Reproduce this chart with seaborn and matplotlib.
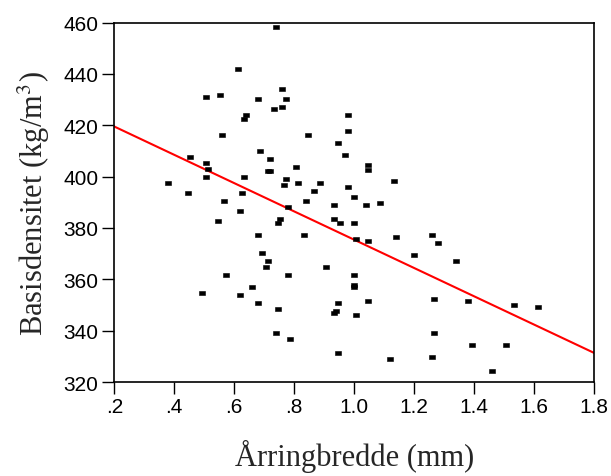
import matplotlib
matplotlib.use("Agg")
import matplotlib.pyplot as plt
import seaborn as sns
import pandas as pd

# Data
ring_width = [0.739, 0.613, 0.760, 0.507, 0.553, 0.680, 0.773, 0.732, 0.760, 0.639,
              0.633, 0.980, 0.980, 0.560, 0.847, 0.946, 0.968, 0.452, 0.687, 0.507,
              0.513, 0.507, 0.720, 0.713, 0.720, 0.807, 0.633, 0.773, 0.767, 0.813,
              0.887, 0.380, 0.447, 0.627, 0.867, 0.980, 1.000, 1.047, 1.047, 1.133,
              0.567, 0.620, 0.547, 0.840, 0.780, 0.753, 0.747, 0.933, 0.933, 0.953,
              1.000, 1.007, 0.833, 0.680, 0.693, 0.713, 0.707, 0.907, 0.573, 0.780,
              1.000, 1.000, 1.000, 0.660, 0.493, 0.620, 0.680, 0.747, 0.947, 0.933,
              0.940, 1.007, 0.740, 0.787, 0.947, 1.040, 1.087, 1.047, 1.140, 1.260,
              1.280, 1.200, 1.340, 1.267, 1.380, 1.533, 1.613, 1.047, 1.267, 1.393,
              1.507, 1.120, 1.260, 1.460]
density = [458.1, 441.8, 434.0, 430.9, 431.7, 430.1, 430.1, 426.2, 427.0, 423.9,
           422.3, 423.9, 417.7, 416.1, 416.1, 413.0, 408.3, 407.6, 409.9, 405.2,
           402.9, 399.8, 406.8, 402.1, 402.1, 403.7, 399.8, 399.0, 396.7, 397.5,
           397.5, 397.5, 393.6, 393.6, 394.3, 395.9, 392.0, 404.5, 402.7, 398.2,
           390.5, 386.6, 382.7, 390.5, 388.1, 383.5, 381.9, 388.9, 383.5, 381.9,
           381.9, 375.7, 377.2, 377.2, 370.2, 367.1, 364.8, 364.8, 361.7, 361.7,
           361.7, 357.8, 357.0, 357.0, 354.7, 353.9, 350.8, 348.5, 350.8, 346.9,
           347.7, 346.1, 339.1, 336.8, 331.3, 388.9, 389.7, 374.9, 376.4, 377.2,
           374.1, 369.5, 367.1, 352.3, 351.6, 350.0, 349.2, 351.6, 339.1, 334.4,
           334.4, 329.0, 329.8, 324.3]

fit_x = [0.2, 1.8]
fit_y = [419.5, 331.3]

x_ticks = [0.2, 0.4, 0.6, 0.8, 1.0, 1.2, 1.4, 1.6, 1.8]
x_tick_labels = [".2", ".4", ".6", ".8", "1.0", "1.2", "1.4", "1.6", "1.8"]
y_ticks = [320, 340, 360, 380, 400, 420, 440, 460]
y_tick_labels = ["320", "340", "360", "380", "400", "420", "440", "460"]

x_label = "Årringbredde (mm)"
y_label = r"Basisdensitet (kg/m$^\mathrm{3}$)"

sns.set_style("ticks")
plt.rcParams["font.family"] = ["Liberation Sans", "DejaVu Sans"]
plt.rcParams["mathtext.fontset"] = "stix"

df = pd.DataFrame({"x": ring_width, "y": density})
fit = pd.DataFrame({"x": fit_x, "y": fit_y})

fig = plt.figure(figsize=(6.11, 4.77), dpi=100)
ax = fig.add_axes([0.187, 0.197, 0.7857, 0.7537])

rect = [(-1, -0.6), (1, -0.6), (1, 0.6), (-1, 0.6), (-1, -0.6)]
sns.scatterplot(data=df, x="x", y="y", ax=ax, marker=rect, s=18,
                color="black", edgecolor="black", linewidth=0.4, zorder=3)
sns.lineplot(data=fit, x="x", y="y", ax=ax, color="#ff0000", linewidth=1.5,
             zorder=2)

ax.set_xlim(0.2, 1.8)
ax.set_ylim(320, 460)
ax.set_xticks(x_ticks)
ax.set_xticklabels(x_tick_labels)
ax.set_yticks(y_ticks)
ax.set_yticklabels(y_tick_labels)

for sp in ax.spines.values():
    sp.set_visible(True)
    sp.set_color("black")
    sp.set_linewidth(1.2)

ax.tick_params(axis="both", direction="out", length=8.6, width=1.0,
               color="black", labelsize=15, labelcolor="black")
ax.tick_params(axis="x", pad=2)
ax.tick_params(axis="y", pad=3)

ax.set_xlabel(x_label, fontsize=22, family=["Liberation Serif", "DejaVu Serif"],
              labelpad=17)
ax.set_ylabel(y_label, fontsize=22, family=["Liberation Serif", "DejaVu Serif"],
              labelpad=8)

fig.savefig("out.png", dpi=100)
